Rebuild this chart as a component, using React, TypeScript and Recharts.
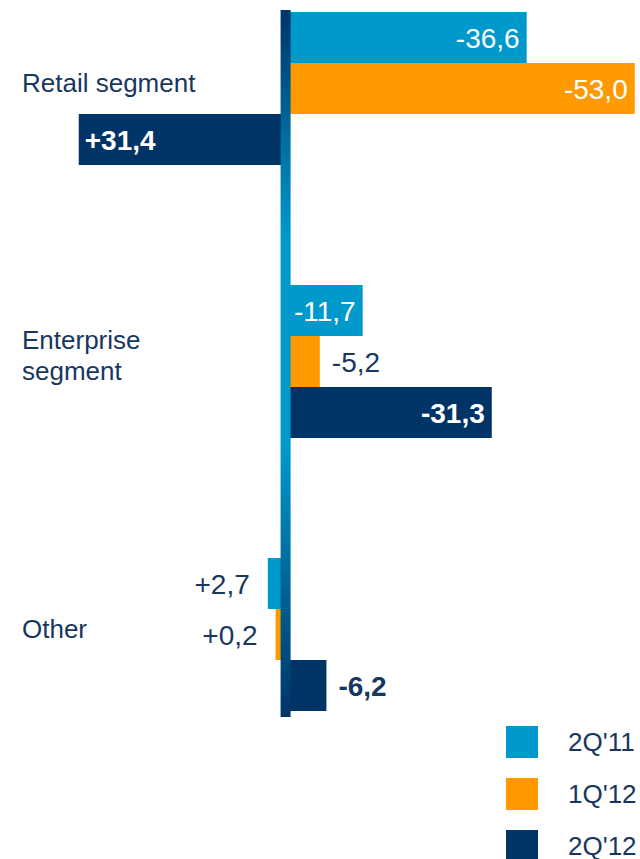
import React from 'react';
import { Bar, BarChart, LabelList, ReferenceArea, XAxis, YAxis } from 'recharts';

const categories = ['Retail segment', 'Enterprise segment', 'Other'];
const seriesNames = ["2Q'11", "1Q'12", "2Q'12"];
const q2_11 = [-36.6, -11.7, 2.7];
const q1_12 = [-53.0, -5.2, 0.2];
const q2_12 = [31.4, -31.3, -6.2];

const colors = ['#0099CC', '#FF9900', '#003366'];
const navy = '#17375E';
const font = '"Liberation Sans", Arial, sans-serif';

// x axis: zero sits ~285px from the left, negative values run to the right
const xDomain = [-53.8, 43.2];

const data = categories.map((name, i) => ({
  name,
  q2_11: q2_11[i],
  q1_12: q1_12[i],
  q2_12: q2_12[i],
}));

const fmt = (v: number) => (v > 0 ? '+' : '') + v.toFixed(1).replace('.', ',');

const makeLabel = (bold: boolean) => (props: any) => {
  const { x, y, width, height, value } = props;
  const left = Math.min(x, x + width);
  const right = Math.max(x, x + width);
  const inside = right - left > 50;
  const cy = y + height / 2;
  let tx: number;
  let anchor: 'start' | 'end';
  if (value < 0) {
    tx = inside ? right - 7 : right + 12;
    anchor = inside ? 'end' : 'start';
  } else {
    tx = inside ? left + 6 : left - 18;
    anchor = inside ? 'start' : 'end';
  }
  return (
    <text
      x={tx}
      y={cy}
      dy="0.36em"
      textAnchor={anchor}
      fill={inside ? '#FFFFFF' : navy}
      fontSize={28}
      fontWeight={bold ? 700 : 400}
      fontFamily={font}
    >
      {fmt(value)}
    </text>
  );
};

const CategoryTick = (props: any) => {
  const { y, payload } = props;
  const words: string[] = payload.value === 'Enterprise segment' ? ['Enterprise', 'segment'] : [payload.value];
  const lh = 31;
  const start = y - 6 - ((words.length - 1) * lh) / 2;
  return (
    <text x={22} y={start} fill={navy} fontSize={26} fontFamily={font} textAnchor="start">
      {words.map((w, i) => (
        <tspan key={w} x={22} dy={i === 0 ? '0.36em' : lh}>
          {w}
        </tspan>
      ))}
    </text>
  );
};

const AxisBar = (props: any) => {
  const { x, y, width, height } = props;
  return <rect x={x} y={y + 58} width={width} height={height - 112} fill="url(#axisGrad)" />;
};

export default function App() {
  return (
    <div style={{ position: 'absolute', left: 0, top: 0, width: 640, height: 859, overflow: 'hidden', background: '#fff' }}>
      <svg width={0} height={0} style={{ position: 'absolute' }}>
        <defs>
          <linearGradient id="axisGrad" x1="0" y1="0" x2="0" y2="1">
            <stop offset="0%" stopColor="#003366" />
            <stop offset="32%" stopColor="#0099CC" />
            <stop offset="62%" stopColor="#0099CC" />
            <stop offset="100%" stopColor="#003366" />
          </linearGradient>
        </defs>
      </svg>
      <BarChart
        width={640}
        height={859}
        data={data}
        layout="vertical"
        margin={{ top: -48, right: 0, bottom: 88, left: 0 }}
        barCategoryGap={60}
        barGap={0}
      >
        <XAxis type="number" domain={xDomain} reversed hide allowDataOverflow />
        <YAxis type="category" dataKey="name" width={1} axisLine={false} tickLine={false} tick={<CategoryTick />} interval={0} />
        <Bar dataKey="q2_11" name={seriesNames[0]} fill={colors[0]} isAnimationActive={false}>
          <LabelList dataKey="q2_11" content={makeLabel(false)} />
        </Bar>
        <Bar dataKey="q1_12" name={seriesNames[1]} fill={colors[1]} minPointSize={10} isAnimationActive={false}>
          <LabelList dataKey="q1_12" content={makeLabel(false)} />
        </Bar>
        <Bar dataKey="q2_12" name={seriesNames[2]} fill={colors[2]} isAnimationActive={false}>
          <LabelList dataKey="q2_12" content={makeLabel(true)} />
        </Bar>
        <ReferenceArea x1={0.76} x2={-0.76} ifOverflow="visible" shape={<AxisBar />} zIndex={350} />
      </BarChart>
      <div style={{ position: 'absolute', left: 506, top: 716, fontFamily: font }}>
        {seriesNames.map((s, i) => (
          <div key={s} style={{ display: 'flex', alignItems: 'center', height: 52 }}>
            <div style={{ width: 32, height: 32, background: colors[i] }} />
            <span style={{ marginLeft: 30, fontSize: 26, color: navy }}>{s}</span>
          </div>
        ))}
      </div>
    </div>
  );
}
